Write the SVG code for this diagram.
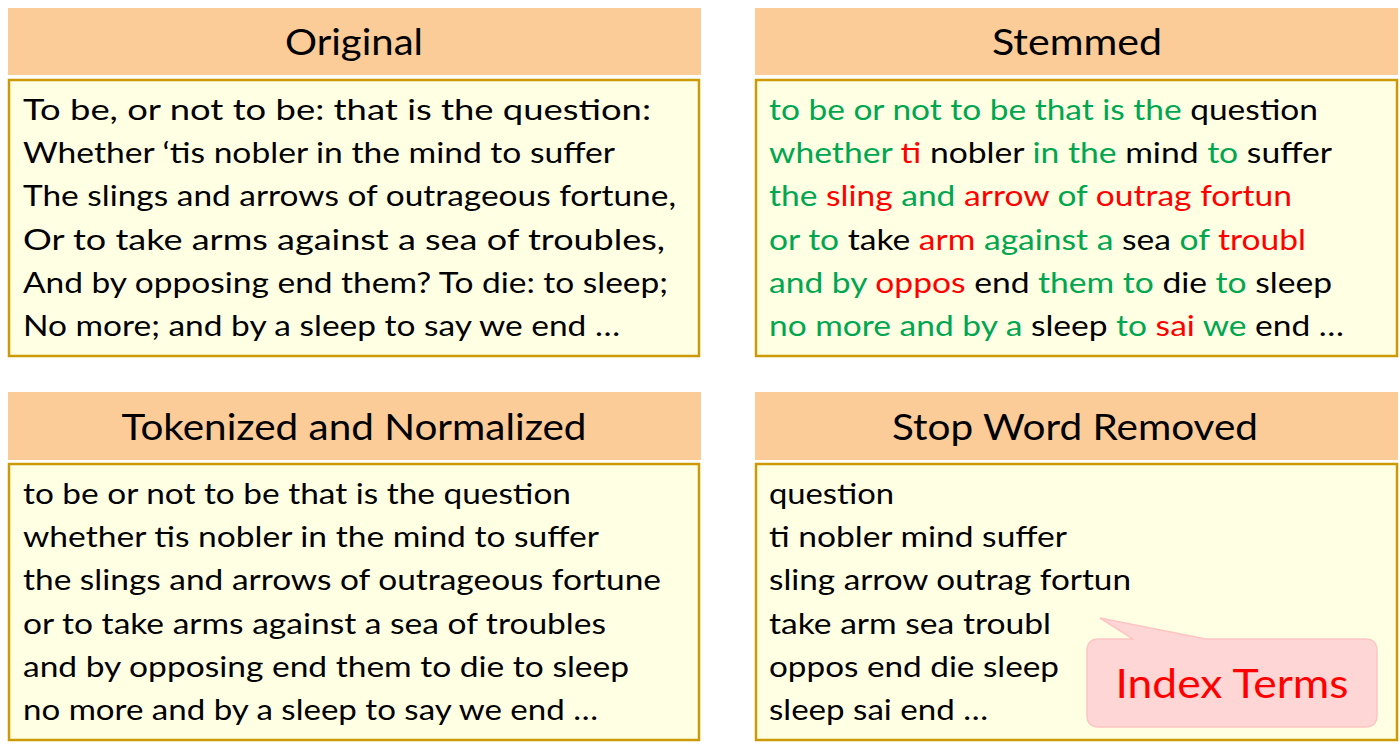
<svg xmlns="http://www.w3.org/2000/svg" width="1400" height="756" viewBox="0 0 1400 756">
<style>
.hdr{fill:#FBCB98}
.box{fill:#FFFFE3;stroke:#CC9A06;stroke-width:2.5}
.ht{font-family:Lato,"Open Sans",sans-serif;font-size:36px;fill:#000;text-anchor:middle}
.t{font-family:Lato,"Open Sans",sans-serif;font-size:29px;fill:#000}
.g{fill:#00A650}
.r{fill:#FF0000}
.call{fill:#FFD6D6;stroke:#FFC4C4;stroke-width:1.5}
.it{font-family:Lato,"Open Sans",sans-serif;font-size:40px;fill:#FF0000;text-anchor:middle}
</style>
<rect width="1400" height="756" fill="#FFFFFF"/>
<g id="original">
<rect class="hdr" x="8" y="8" width="693" height="67"/>
<text class="ht" x="354" y="55" textLength="138" lengthAdjust="spacingAndGlyphs">Original</text>
<rect class="box" x="9" y="80" width="690" height="276"/>
<text class="t" x="23" y="120" textLength="628" lengthAdjust="spacingAndGlyphs">To be, or not to be: that is the question:</text>
<text class="t" x="23" y="163" textLength="592" lengthAdjust="spacingAndGlyphs">Whether ‘tis nobler in the mind to suffer</text>
<text class="t" x="23" y="206" textLength="653" lengthAdjust="spacingAndGlyphs">The slings and arrows of outrageous fortune,</text>
<text class="t" x="23" y="250" textLength="642" lengthAdjust="spacingAndGlyphs">Or to take arms against a sea of troubles,</text>
<text class="t" x="23" y="293" textLength="645" lengthAdjust="spacingAndGlyphs">And by opposing end them? To die: to sleep;</text>
<text class="t" x="23" y="336" textLength="597" lengthAdjust="spacingAndGlyphs">No more; and by a sleep to say we end …</text>
</g>
<g id="stemmed">
<rect class="hdr" x="755" y="8" width="643" height="67"/>
<text class="ht" x="1077" y="55" textLength="170" lengthAdjust="spacingAndGlyphs">Stemmed</text>
<rect class="box" x="756" y="80" width="641" height="276"/>
<text class="t" x="769" y="120" textLength="549" lengthAdjust="spacingAndGlyphs"><tspan class="g">to be or not to be that is the</tspan> question</text>
<text class="t" x="769" y="163" textLength="563" lengthAdjust="spacingAndGlyphs"><tspan class="g">whether</tspan> <tspan class="r">ti</tspan> nobler <tspan class="g">in the</tspan> mind <tspan class="g">to</tspan> suffer</text>
<text class="t" x="769" y="206" textLength="523" lengthAdjust="spacingAndGlyphs"><tspan class="g">the</tspan> <tspan class="r">sling</tspan> <tspan class="g">and</tspan> <tspan class="r">arrow</tspan> <tspan class="g">of</tspan> <tspan class="r">outrag fortun</tspan></text>
<text class="t" x="769" y="250" textLength="537" lengthAdjust="spacingAndGlyphs"><tspan class="g">or to</tspan> take <tspan class="r">arm</tspan> <tspan class="g">against a</tspan> sea <tspan class="g">of</tspan> <tspan class="r">troubl</tspan></text>
<text class="t" x="769" y="293" textLength="563" lengthAdjust="spacingAndGlyphs"><tspan class="g">and by</tspan> <tspan class="r">oppos</tspan> end <tspan class="g">them to</tspan> die <tspan class="g">to</tspan> sleep</text>
<text class="t" x="769" y="336" textLength="575" lengthAdjust="spacingAndGlyphs"><tspan class="g">no more and by a</tspan> sleep <tspan class="g">to</tspan> <tspan class="r">sai</tspan> <tspan class="g">we</tspan> end …</text>
</g>
<g id="tokenized">
<rect class="hdr" x="8" y="392" width="693" height="68"/>
<text class="ht" x="354" y="440" textLength="465" lengthAdjust="spacingAndGlyphs">Tokenized and Normalized</text>
<rect class="box" x="9" y="464" width="690" height="276"/>
<text class="t" x="23" y="504" textLength="548" lengthAdjust="spacingAndGlyphs">to be or not to be that is the question</text>
<text class="t" x="23" y="547" textLength="576" lengthAdjust="spacingAndGlyphs">whether tis nobler in the mind to suffer</text>
<text class="t" x="23" y="590" textLength="638" lengthAdjust="spacingAndGlyphs">the slings and arrows of outrageous fortune</text>
<text class="t" x="23" y="634" textLength="583" lengthAdjust="spacingAndGlyphs">or to take arms against a sea of troubles</text>
<text class="t" x="23" y="677" textLength="606" lengthAdjust="spacingAndGlyphs">and by opposing end them to die to sleep</text>
<text class="t" x="23" y="720" textLength="575" lengthAdjust="spacingAndGlyphs">no more and by a sleep to say we end …</text>
</g>
<g id="stopword">
<rect class="hdr" x="755" y="392" width="643" height="68"/>
<text class="ht" x="1075" y="440" textLength="366" lengthAdjust="spacingAndGlyphs">Stop Word Removed</text>
<rect class="box" x="756" y="464" width="641" height="276"/>
<text class="t" x="769" y="504" textLength="125" lengthAdjust="spacingAndGlyphs">question</text>
<text class="t" x="769" y="547" textLength="298" lengthAdjust="spacingAndGlyphs">ti nobler mind suffer</text>
<text class="t" x="769" y="590" textLength="362" lengthAdjust="spacingAndGlyphs">sling arrow outrag fortun</text>
<text class="t" x="769" y="634" textLength="282" lengthAdjust="spacingAndGlyphs">take arm sea troubl</text>
<text class="t" x="769" y="677" textLength="290" lengthAdjust="spacingAndGlyphs">oppos end die sleep</text>
<text class="t" x="769" y="720" textLength="219" lengthAdjust="spacingAndGlyphs">sleep sai end …</text>
</g>
<g id="index-terms">
<path class="call" d="M1100,618 L1206,639 L1365,639 Q1377,639 1377,651 L1377,715 Q1377,727 1365,727 L1099,727 Q1087,727 1087,715 L1087,651 Q1087,639 1099,639 L1133,639 Z"/>
<text class="it" x="1232" y="698" textLength="233" lengthAdjust="spacingAndGlyphs">Index Terms</text>
</g>
</svg>
